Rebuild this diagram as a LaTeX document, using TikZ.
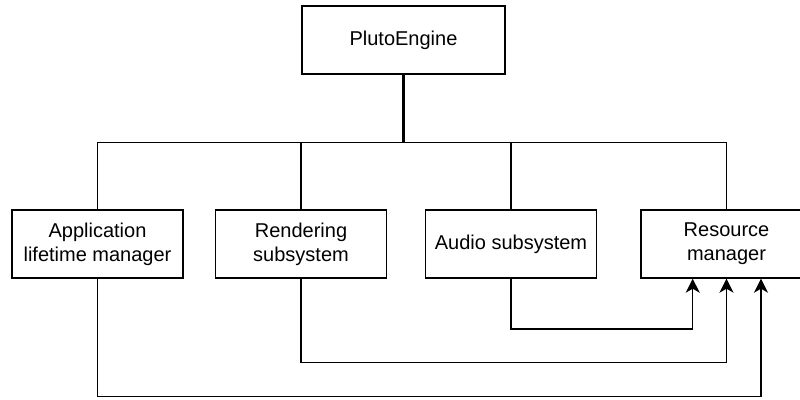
\documentclass[tikz,border=0pt]{standalone}
\usepackage{fontspec}
\setmainfont{Liberation Sans}
\usetikzlibrary{arrows.meta}
\begin{document}
\begin{tikzpicture}[x=1pt,y=-1pt,
  box/.style={draw, line width=1.4pt, minimum width=171pt, minimum height=68pt, inner sep=0pt, align=center, font=\fontsize{20}{24}\selectfont},
  conn/.style={line width=1.4pt},
  arr/.style={line width=1.4pt, -{Stealth[length=14pt,width=14pt,inset=4pt]}}]
\useasboundingbox (0,0) rectangle (800,399);
\node[box, minimum width=203pt] (pe) at (403.5,40) {PlutoEngine};
\node[box] (app) at (97.5,244) {Application\\lifetime manager};
\node[box] (ren) at (301,244) {Rendering\\subsystem};
\node[box] (aud) at (511,244) {Audio subsystem};
\node[box] (res) at (726.5,244) {Resource\\manager};
\coordinate (bus) at (403.5,142.5);
\draw[line width=2.8pt] (pe.south) -- (bus);
\draw[conn] (bus) -| (app.north);
\draw[conn] (bus) -| (ren.north);
\draw[conn] (bus) -| (aud.north);
\draw[conn] (bus) -| (res.north);
\coordinate (c1) at (692.7,329);
\coordinate (c2) at (726.5,362.7);
\coordinate (c3) at (761,396.5);
\draw[arr] (aud.south) |- (c1) -- (c1 |- res.south);
\draw[arr] (ren.south) |- (c2) -- (c2 |- res.south);
\draw[arr] (app.south) |- (c3) -- (c3 |- res.south);
\end{tikzpicture}
\end{document}
